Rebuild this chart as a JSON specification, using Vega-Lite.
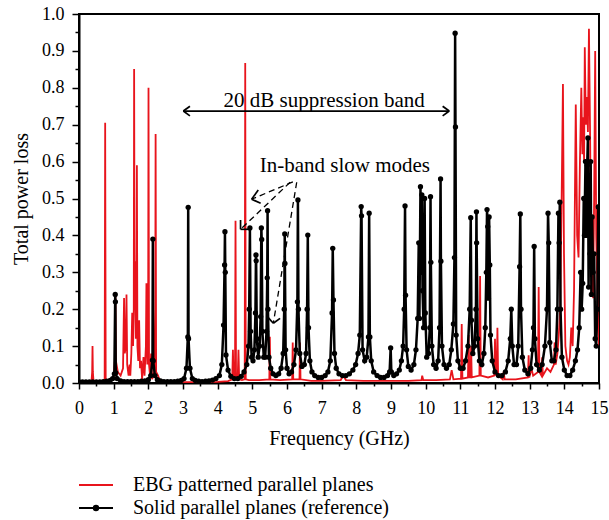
{
  "$schema": "https://vega.github.io/schema/vega-lite/v6.json",
  "width": 520,
  "height": 369,
  "autosize": {"type": "none"},
  "padding": {"left": 79, "top": 14, "right": 10, "bottom": 137},
  "background": "white",
  "config": {
    "font": "Liberation Serif",
    "view": {"stroke": "black", "strokeWidth": 2},
    "axis": {"labelFont": "Liberation Serif", "titleFont": "Liberation Serif"},
    "legend": {"labelFont": "Liberation Serif"},
    "text": {"font": "Liberation Serif"}
  },
  "datasets": {
    "ebg": [
      {"f":0,"p":0.002},{"f":0.2,"p":0.002},{"f":0.36,"p":0.003},{"f":0.38,"p":0.03},{"f":0.39,"p":0.1},{"f":0.4,"p":0.03},{"f":0.42,"p":0.003},{"f":0.6,"p":0.003},{"f":0.74,"p":0.004},{"f":0.755,"p":0.705},{"f":0.77,"p":0.004},{"f":0.9,"p":0.006},{"f":1.0,"p":0.015},{"f":1.035,"p":0.06},{"f":1.05,"p":0.24},{"f":1.065,"p":0.06},{"f":1.12,"p":0.03},{"f":1.2,"p":0.02},{"f":1.27,"p":0.04},{"f":1.3,"p":0.23},{"f":1.32,"p":0.08},{"f":1.35,"p":0.1},{"f":1.37,"p":0.24},{"f":1.39,"p":0.05},{"f":1.43,"p":0.02},{"f":1.46,"p":0.05},{"f":1.48,"p":0.02},{"f":1.51,"p":0.08},{"f":1.535,"p":0.19},{"f":1.56,"p":0.1},{"f":1.58,"p":0.2},{"f":1.59,"p":0.851},{"f":1.605,"p":0.2},{"f":1.62,"p":0.33},{"f":1.64,"p":0.12},{"f":1.66,"p":0.25},{"f":1.67,"p":0.59},{"f":1.685,"p":0.1},{"f":1.71,"p":0.06},{"f":1.735,"p":0.17},{"f":1.76,"p":0.04},{"f":1.79,"p":0.06},{"f":1.82,"p":0.01},{"f":1.86,"p":0.07},{"f":1.89,"p":0.02},{"f":1.93,"p":0.1},{"f":1.945,"p":0.27},{"f":1.97,"p":0.05},{"f":1.995,"p":0.2},{"f":2.005,"p":0.8},{"f":2.02,"p":0.05},{"f":2.05,"p":0.02},{"f":2.08,"p":0.08},{"f":2.11,"p":0.01},{"f":2.17,"p":0.03},{"f":2.2,"p":0.2},{"f":2.21,"p":0.675},{"f":2.225,"p":0.03},{"f":2.28,"p":0.02},{"f":2.34,"p":0.004},{"f":2.6,"p":0.002},{"f":3.0,"p":0.002},{"f":3.5,"p":0.002},{"f":4.0,"p":0.003},{"f":4.3,"p":0.005},{"f":4.42,"p":0.01},{"f":4.44,"p":0.09},{"f":4.46,"p":0.01},{"f":4.5,"p":0.02},{"f":4.515,"p":0.44},{"f":4.53,"p":0.01},{"f":4.58,"p":0.02},{"f":4.6,"p":0.09},{"f":4.62,"p":0.01},{"f":4.7,"p":0.008},{"f":4.78,"p":0.01},{"f":4.795,"p":0.867},{"f":4.81,"p":0.01},{"f":4.9,"p":0.008},{"f":5.2,"p":0.008},{"f":5.49,"p":0.01},{"f":5.505,"p":0.125},{"f":5.52,"p":0.01},{"f":5.8,"p":0.008},{"f":6.15,"p":0.01},{"f":6.165,"p":0.11},{"f":6.18,"p":0.01},{"f":6.36,"p":0.01},{"f":6.375,"p":0.11},{"f":6.39,"p":0.01},{"f":6.7,"p":0.006},{"f":7.0,"p":0.006},{"f":7.55,"p":0.008},{"f":7.62,"p":0.02},{"f":7.7,"p":0.008},{"f":8.2,"p":0.006},{"f":8.8,"p":0.006},{"f":9.5,"p":0.006},{"f":9.88,"p":0.008},{"f":9.9,"p":0.02},{"f":9.93,"p":0.008},{"f":10.3,"p":0.008},{"f":10.7,"p":0.01},{"f":10.75,"p":0.035},{"f":10.8,"p":0.01},{"f":11.02,"p":0.012},{"f":11.04,"p":0.16},{"f":11.06,"p":0.012},{"f":11.22,"p":0.015},{"f":11.24,"p":0.13},{"f":11.26,"p":0.015},{"f":11.3,"p":0.015},{"f":11.31,"p":0.1},{"f":11.33,"p":0.015},{"f":11.55,"p":0.02},{"f":11.57,"p":0.29},{"f":11.59,"p":0.02},{"f":11.8,"p":0.015},{"f":11.98,"p":0.02},{"f":12.0,"p":0.12},{"f":12.02,"p":0.02},{"f":12.05,"p":0.03},{"f":12.07,"p":0.15},{"f":12.09,"p":0.02},{"f":12.22,"p":0.01},{"f":12.25,"p":0.03},{"f":12.28,"p":0.01},{"f":12.6,"p":0.01},{"f":12.95,"p":0.015},{"f":12.97,"p":0.075},{"f":12.99,"p":0.015},{"f":13.05,"p":0.04},{"f":13.1,"p":0.02},{"f":13.24,"p":0.03},{"f":13.26,"p":0.26},{"f":13.28,"p":0.03},{"f":13.34,"p":0.02},{"f":13.36,"p":0.07},{"f":13.38,"p":0.02},{"f":13.5,"p":0.04},{"f":13.6,"p":0.03},{"f":13.7,"p":0.05},{"f":13.72,"p":0.11},{"f":13.75,"p":0.05},{"f":13.8,"p":0.08},{"f":13.84,"p":0.13},{"f":13.88,"p":0.2},{"f":13.92,"p":0.48},{"f":13.96,"p":0.81},{"f":13.99,"p":0.35},{"f":14.03,"p":0.1},{"f":14.08,"p":0.06},{"f":14.12,"p":0.05},{"f":14.16,"p":0.07},{"f":14.2,"p":0.15},{"f":14.24,"p":0.1},{"f":14.28,"p":0.25},{"f":14.33,"p":0.755},{"f":14.37,"p":0.4},{"f":14.41,"p":0.34},{"f":14.45,"p":0.6},{"f":14.49,"p":0.8},{"f":14.52,"p":0.62},{"f":14.54,"p":0.72},{"f":14.57,"p":0.6},{"f":14.59,"p":0.91},{"f":14.62,"p":0.7},{"f":14.65,"p":0.775},{"f":14.68,"p":0.68},{"f":14.71,"p":0.96},{"f":14.74,"p":0.7},{"f":14.76,"p":0.5},{"f":14.8,"p":0.3},{"f":14.83,"p":0.23},{"f":14.86,"p":0.5},{"f":14.89,"p":0.9},{"f":14.92,"p":0.4},{"f":14.96,"p":0.22},{"f":15.0,"p":0.1}
    ],
    "solid": [
      {"f":0,"p":0.003},{"f":0.1,"p":0.003},{"f":0.2,"p":0.003},{"f":0.3,"p":0.003},{"f":0.4,"p":0.003},{"f":0.5,"p":0.003},{"f":0.6,"p":0.003},{"f":0.7,"p":0.004},{"f":0.8,"p":0.005},{"f":0.9,"p":0.007},{"f":0.97,"p":0.012},{"f":1.02,"p":0.025},{"f":1.045,"p":0.24},{"f":1.05,"p":0.22},{"f":1.06,"p":0.028},{"f":1.1,"p":0.012},{"f":1.2,"p":0.006},{"f":1.3,"p":0.004},{"f":1.4,"p":0.004},{"f":1.5,"p":0.004},{"f":1.6,"p":0.004},{"f":1.7,"p":0.004},{"f":1.8,"p":0.005},{"f":1.9,"p":0.006},{"f":2.0,"p":0.009},{"f":2.07,"p":0.02},{"f":2.12,"p":0.062},{"f":2.13,"p":0.39},{"f":2.14,"p":0.06},{"f":2.19,"p":0.02},{"f":2.26,"p":0.009},{"f":2.35,"p":0.006},{"f":2.45,"p":0.004},{"f":2.55,"p":0.004},{"f":2.65,"p":0.004},{"f":2.75,"p":0.004},{"f":2.85,"p":0.005},{"f":2.95,"p":0.007},{"f":3.03,"p":0.012},{"f":3.1,"p":0.04},{"f":3.14,"p":0.125},{"f":3.15,"p":0.476},{"f":3.16,"p":0.12},{"f":3.2,"p":0.04},{"f":3.27,"p":0.012},{"f":3.35,"p":0.007},{"f":3.45,"p":0.005},{"f":3.55,"p":0.004},{"f":3.65,"p":0.005},{"f":3.75,"p":0.006},{"f":3.85,"p":0.008},{"f":3.95,"p":0.012},{"f":4.05,"p":0.02},{"f":4.12,"p":0.05},{"f":4.17,"p":0.157},{"f":4.2,"p":0.32},{"f":4.21,"p":0.41},{"f":4.22,"p":0.3},{"f":4.24,"p":0.076},{"f":4.3,"p":0.035},{"f":4.38,"p":0.018},{"f":4.48,"p":0.012},{"f":4.58,"p":0.012},{"f":4.68,"p":0.018},{"f":4.76,"p":0.03},{"f":4.84,"p":0.05},{"f":4.89,"p":0.1},{"f":4.91,"p":0.2},{"f":4.93,"p":0.42},{"f":4.95,"p":0.14},{"f":4.98,"p":0.07},{"f":5.02,"p":0.06},{"f":5.06,"p":0.09},{"f":5.09,"p":0.19},{"f":5.105,"p":0.347},{"f":5.11,"p":0.331},{"f":5.13,"p":0.12},{"f":5.17,"p":0.07},{"f":5.21,"p":0.1},{"f":5.24,"p":0.18},{"f":5.26,"p":0.42},{"f":5.27,"p":0.389},{"f":5.29,"p":0.14},{"f":5.33,"p":0.07},{"f":5.37,"p":0.07},{"f":5.41,"p":0.14},{"f":5.43,"p":0.285},{"f":5.44,"p":0.467},{"f":5.45,"p":0.2},{"f":5.48,"p":0.07},{"f":5.53,"p":0.04},{"f":5.6,"p":0.025},{"f":5.68,"p":0.02},{"f":5.76,"p":0.025},{"f":5.83,"p":0.04},{"f":5.89,"p":0.08},{"f":5.92,"p":0.2},{"f":5.935,"p":0.404},{"f":5.94,"p":0.324},{"f":5.96,"p":0.09},{"f":6.0,"p":0.04},{"f":6.06,"p":0.025},{"f":6.13,"p":0.03},{"f":6.2,"p":0.05},{"f":6.26,"p":0.09},{"f":6.3,"p":0.22},{"f":6.315,"p":0.496},{"f":6.33,"p":0.2},{"f":6.37,"p":0.08},{"f":6.43,"p":0.045},{"f":6.5,"p":0.05},{"f":6.55,"p":0.08},{"f":6.58,"p":0.2},{"f":6.6,"p":0.401},{"f":6.62,"p":0.15},{"f":6.66,"p":0.06},{"f":6.72,"p":0.03},{"f":6.8,"p":0.02},{"f":6.9,"p":0.015},{"f":7.0,"p":0.015},{"f":7.1,"p":0.02},{"f":7.18,"p":0.03},{"f":7.25,"p":0.06},{"f":7.3,"p":0.19},{"f":7.32,"p":0.365},{"f":7.34,"p":0.225},{"f":7.37,"p":0.08},{"f":7.42,"p":0.04},{"f":7.5,"p":0.025},{"f":7.6,"p":0.02},{"f":7.7,"p":0.02},{"f":7.8,"p":0.025},{"f":7.9,"p":0.035},{"f":7.98,"p":0.05},{"f":8.05,"p":0.08},{"f":8.1,"p":0.13},{"f":8.14,"p":0.478},{"f":8.15,"p":0.453},{"f":8.18,"p":0.09},{"f":8.24,"p":0.06},{"f":8.3,"p":0.07},{"f":8.35,"p":0.125},{"f":8.37,"p":0.46},{"f":8.39,"p":0.125},{"f":8.43,"p":0.06},{"f":8.5,"p":0.03},{"f":8.6,"p":0.02},{"f":8.7,"p":0.015},{"f":8.8,"p":0.015},{"f":8.9,"p":0.02},{"f":8.96,"p":0.03},{"f":8.99,"p":0.095},{"f":9.01,"p":0.03},{"f":9.08,"p":0.02},{"f":9.16,"p":0.025},{"f":9.24,"p":0.035},{"f":9.3,"p":0.06},{"f":9.35,"p":0.1},{"f":9.38,"p":0.2},{"f":9.405,"p":0.48},{"f":9.42,"p":0.238},{"f":9.45,"p":0.09},{"f":9.5,"p":0.045},{"f":9.58,"p":0.035},{"f":9.66,"p":0.05},{"f":9.72,"p":0.09},{"f":9.77,"p":0.175},{"f":9.8,"p":0.38},{"f":9.82,"p":0.175},{"f":9.85,"p":0.532},{"f":9.87,"p":0.3},{"f":9.89,"p":0.51},{"f":9.91,"p":0.25},{"f":9.94,"p":0.15},{"f":9.97,"p":0.5},{"f":9.99,"p":0.19},{"f":10.03,"p":0.07},{"f":10.08,"p":0.08},{"f":10.12,"p":0.15},{"f":10.14,"p":0.505},{"f":10.15,"p":0.327},{"f":10.18,"p":0.1},{"f":10.23,"p":0.05},{"f":10.3,"p":0.04},{"f":10.36,"p":0.06},{"f":10.4,"p":0.15},{"f":10.43,"p":0.553},{"f":10.44,"p":0.33},{"f":10.47,"p":0.1},{"f":10.53,"p":0.05},{"f":10.6,"p":0.04},{"f":10.68,"p":0.05},{"f":10.74,"p":0.09},{"f":10.8,"p":0.16},{"f":10.83,"p":0.34},{"f":10.85,"p":0.948},{"f":10.86,"p":0.694},{"f":10.88,"p":0.13},{"f":10.93,"p":0.06},{"f":11.0,"p":0.04},{"f":11.08,"p":0.04},{"f":11.15,"p":0.06},{"f":11.22,"p":0.1},{"f":11.27,"p":0.2},{"f":11.3,"p":0.448},{"f":11.32,"p":0.17},{"f":11.36,"p":0.08},{"f":11.41,"p":0.1},{"f":11.45,"p":0.2},{"f":11.465,"p":0.464},{"f":11.47,"p":0.38},{"f":11.5,"p":0.12},{"f":11.55,"p":0.06},{"f":11.62,"p":0.05},{"f":11.68,"p":0.08},{"f":11.72,"p":0.15},{"f":11.75,"p":0.3},{"f":11.77,"p":0.47},{"f":11.79,"p":0.424},{"f":11.81,"p":0.23},{"f":11.83,"p":0.45},{"f":11.85,"p":0.32},{"f":11.87,"p":0.13},{"f":11.92,"p":0.06},{"f":12.0,"p":0.03},{"f":12.1,"p":0.02},{"f":12.2,"p":0.02},{"f":12.3,"p":0.03},{"f":12.38,"p":0.06},{"f":12.44,"p":0.12},{"f":12.47,"p":0.2},{"f":12.5,"p":0.1},{"f":12.55,"p":0.05},{"f":12.62,"p":0.05},{"f":12.67,"p":0.1},{"f":12.71,"p":0.315},{"f":12.73,"p":0.458},{"f":12.75,"p":0.2},{"f":12.79,"p":0.07},{"f":12.86,"p":0.035},{"f":12.95,"p":0.025},{"f":13.03,"p":0.04},{"f":13.08,"p":0.09},{"f":13.11,"p":0.15},{"f":13.13,"p":0.37},{"f":13.15,"p":0.12},{"f":13.2,"p":0.05},{"f":13.28,"p":0.035},{"f":13.36,"p":0.05},{"f":13.44,"p":0.1},{"f":13.5,"p":0.2},{"f":13.53,"p":0.46},{"f":13.55,"p":0.38},{"f":13.58,"p":0.11},{"f":13.64,"p":0.06},{"f":13.7,"p":0.06},{"f":13.76,"p":0.09},{"f":13.8,"p":0.2},{"f":13.83,"p":0.46},{"f":13.85,"p":0.38},{"f":13.87,"p":0.49},{"f":13.89,"p":0.2},{"f":13.93,"p":0.07},{"f":14.0,"p":0.035},{"f":14.08,"p":0.02},{"f":14.16,"p":0.02},{"f":14.24,"p":0.035},{"f":14.32,"p":0.06},{"f":14.38,"p":0.09},{"f":14.43,"p":0.15},{"f":14.47,"p":0.3},{"f":14.5,"p":0.2},{"f":14.53,"p":0.27},{"f":14.56,"p":0.5},{"f":14.58,"p":0.4},{"f":14.61,"p":0.6},{"f":14.63,"p":0.4},{"f":14.66,"p":0.59},{"f":14.68,"p":0.664},{"f":14.7,"p":0.26},{"f":14.72,"p":0.545},{"f":14.74,"p":0.35},{"f":14.76,"p":0.6},{"f":14.78,"p":0.24},{"f":14.8,"p":0.45},{"f":14.83,"p":0.3},{"f":14.86,"p":0.35},{"f":14.89,"p":0.12},{"f":14.92,"p":0.1},{"f":14.95,"p":0.2},{"f":14.98,"p":0.477},{"f":15.0,"p":0.477}
    ],
    "leaders": [
      {"f":6.17,"p":0.545,"f2":4.98,"p2":0.498},
      {"f":6.09,"p":0.544,"f2":4.66,"p2":0.4165},
      {"f":6.28,"p":0.544,"f2":5.605,"p2":0.162}
    ],
    "strokes": [
      {"f":3.01,"p":0.737,"f2":10.68,"p2":0.737},
      {"f":3.01,"p":0.737,"f2":3.2,"p2":0.75},
      {"f":3.01,"p":0.737,"f2":3.2,"p2":0.724},
      {"f":10.68,"p":0.737,"f2":10.49,"p2":0.75},
      {"f":10.68,"p":0.737,"f2":10.49,"p2":0.724},
      {"f":4.98,"p":0.498,"f2":5.17,"p2":0.523},
      {"f":4.98,"p":0.498,"f2":5.24,"p2":0.487},
      {"f":4.66,"p":0.4165,"f2":4.66,"p2":0.4417},
      {"f":4.66,"p":0.4165,"f2":4.92,"p2":0.4165},
      {"f":5.605,"p":0.162,"f2":5.46,"p2":0.177},
      {"f":5.605,"p":0.162,"f2":5.8,"p2":0.175}
    ],
    "notes": [
      {"f":7.07,"p":0.748,"t":"20 dB suppression band"},
      {"f":7.67,"p":0.572,"t":"In-band slow modes"}
    ]
  },
  "encoding": {
    "x": {
      "field": "f", "type": "quantitative", "title": "Frequency (GHz)",
      "scale": {"domain": [0, 15], "nice": false},
      "axis": {
        "values": [0,0.5,1,1.5,2,2.5,3,3.5,4,4.5,5,5.5,6,6.5,7,7.5,8,8.5,9,9.5,10,10.5,11,11.5,12,12.5,13,13.5,14,14.5,15],
        "labelExpr": "datum.value % 1 === 0 ? format(datum.value, 'd') : ''",
        "tickSize": {"condition": {"test": "datum.value % 1 !== 0", "value": 3}, "value": 6},
        "tickWidth": 1.5, "tickColor": "black",
        "domainWidth": 2, "domainColor": "black",
        "labelColor": "black", "labelFont": "Liberation Serif", "labelFontSize": 18, "labelPadding": 10,
        "labelOverlap": false, "labelBound": false, "labelFlush": false,
        "titleColor": "black", "titleFont": "Liberation Serif", "titleFontSize": 20, "titleFontWeight": "normal", "titlePadding": 11,
        "grid": false
      }
    },
    "y": {
      "field": "p", "type": "quantitative", "title": "Total power loss",
      "scale": {"domain": [0, 1], "nice": false},
      "axis": {
        "values": [0,0.05,0.1,0.15,0.2,0.25,0.3,0.35,0.4,0.45,0.5,0.55,0.6,0.65,0.7,0.75,0.8,0.85,0.9,0.95,1],
        "labelExpr": "round(datum.value * 20) % 2 === 0 ? format(datum.value, '.1f') : ''",
        "tickSize": {"condition": {"test": "round(datum.value * 20) % 2 === 1", "value": 4}, "value": 7},
        "tickWidth": 1.5, "tickColor": "black",
        "domainWidth": 2, "domainColor": "black",
        "labelColor": "black", "labelFont": "Liberation Serif", "labelFontSize": 18, "labelPadding": 8,
        "labelOverlap": false, "labelBound": false, "labelFlush": false,
        "titleColor": "black", "titleFont": "Liberation Serif", "titleFontSize": 20, "titleFontWeight": "normal", "titlePadding": 10,
        "grid": false
      }
    }
  },
  "layer": [
    {
      "data": {"name": "ebg"},
      "mark": {"type": "line", "strokeWidth": 1.8, "clip": true},
      "encoding": {
        "color": {
          "datum": "EBG patterned parallel planes",
          "scale": {
            "domain": ["EBG patterned parallel planes", "Solid parallel planes (reference)"],
            "range": ["#e8141c", "black"]
          },
          "legend": {
            "title": null,
            "orient": "none",
            "legendX": 6,
            "legendY": 460,
            "padding": 0,
            "symbolType": "stroke",
            "symbolSize": 400,
            "symbolStrokeWidth": 2,
            "labelFont": "Liberation Serif",
            "labelFontSize": 20,
            "labelColor": "black",
            "labelLimit": 400,
            "labelOffset": 26,
            "rowPadding": 2,
            "encode": {
              "symbols": {
                "update": {
                  "shape": {"signal": "datum.value === 'Solid parallel planes (reference)' ? 'M-1.7,0L1.7,0M0.22,0A0.22,0.22,0,1,1,-0.22,0A0.22,0.22,0,1,1,0.22,0Z' : 'M-1.7,0L1.7,0'"},
                  "fill": {"signal": "datum.value === 'Solid parallel planes (reference)' ? 'black' : 'transparent'"}
                }
              }
            }
          }
        }
      }
    },
    {
      "data": {"name": "solid"},
      "mark": {"type": "line", "strokeWidth": 2.5, "clip": true, "point": {"filled": true, "size": 28}},
      "encoding": {
        "color": {"datum": "Solid parallel planes (reference)"}
      }
    },
    {
      "data": {"name": "leaders"},
      "mark": {"type": "rule", "color": "black", "strokeWidth": 1.3, "strokeDash": [6, 4]},
      "encoding": {
        "x2": {"field": "f2"},
        "y2": {"field": "p2"}
      }
    },
    {
      "data": {"name": "strokes"},
      "mark": {"type": "rule", "color": "black", "strokeWidth": 1.7},
      "encoding": {
        "x2": {"field": "f2"},
        "y2": {"field": "p2"}
      }
    },
    {
      "data": {"name": "notes"},
      "mark": {"type": "text", "font": "Liberation Serif", "fontSize": 21, "color": "black", "align": "center", "baseline": "alphabetic"},
      "encoding": {
        "text": {"field": "t"}
      }
    }
  ]
}
